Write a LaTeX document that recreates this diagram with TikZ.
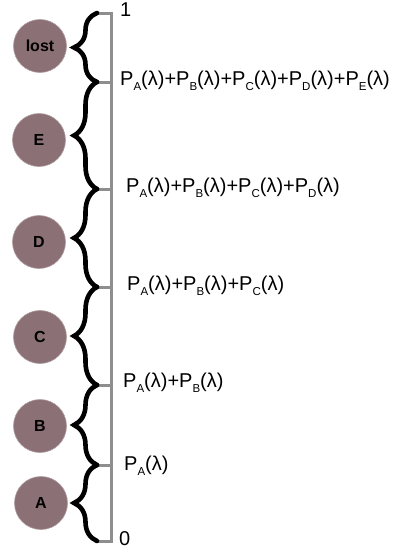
\documentclass[tikz,border=0pt]{standalone}
\usepackage{fontspec}
\setmainfont{Liberation Sans}
\usetikzlibrary{decorations.pathreplacing}
\definecolor{ball}{HTML}{8B7176}
\definecolor{scale}{HTML}{8E8E8E}
\newcommand\Pl[1]{P\raisebox{-0.5ex}{\fontsize{11.5}{12}\selectfont #1}(λ)}
\tikzset{
  ball/.style={circle,fill=ball,draw=ball!70!white,line width=0.6pt,minimum size=53pt,inner sep=0pt,font=\fontsize{16}{18}\selectfont\bfseries},
  axis/.style={draw=scale,line width=3pt},
  brc/.style={decorate,decoration={brace,amplitude=23pt},line width=4.6pt,line cap=round},
  lbl/.style={anchor=west,inner sep=0pt,font=\fontsize{20}{22}\selectfont},
}
\begin{document}
\begin{tikzpicture}[x=1pt,y=-1pt]
\useasboundingbox (0,0) rectangle (392,549);
\coordinate (t0) at (111,541);
\coordinate (t1) at (111,465);
\coordinate (t2) at (111,385);
\coordinate (t3) at (111,287);
\coordinate (t4) at (111,189);
\coordinate (t5) at (111,82);
\coordinate (t6) at (111,13);
\coordinate (b0) at (97,541);
\coordinate (b1) at (97,465);
\coordinate (b2) at (97,385);
\coordinate (b3) at (97,287);
\coordinate (b4) at (97,189);
\coordinate (b5) at (97,82);
\coordinate (b6) at (97,13);
% axis
\draw[axis] (b6) -- (t6) -- (t0) -- (b0);
\foreach \i in {1,...,5} \draw[axis] (b\i) -- (t\i);
% braces
\draw[brc] (b0) -- (b1);
\draw[brc] (b1) -- (b2);
\draw[brc] (b2) -- (b3);
\draw[brc] (b3) -- (b4);
\draw[brc] (b4) -- (b5);
\draw[brc] (b5) -- (b6);
% balls
\node[ball] (lost) at (40,46) {lost};
\node[ball] (E) at (39,140) {E};
\node[ball] (D) at (39,242) {D};
\node[ball] (C) at (40,337) {C};
\node[ball] (B) at (40,426) {B};
\node[ball] (A) at (41,503) {A};
% labels
\node[lbl] (l1) at (120,10) {1};
\node[lbl] (l0) at (119,539) {0};
\node[lbl] (lE) at (120,81) {\Pl{A}+\Pl{B}+\Pl{C}+\Pl{D}+\Pl{E}};
\node[lbl] (lD) at (126,188) {\Pl{A}+\Pl{B}+\Pl{C}+\Pl{D}};
\node[lbl] (lC) at (127,286) {\Pl{A}+\Pl{B}+\Pl{C}};
\node[lbl] (lB) at (123,383) {\Pl{A}+\Pl{B}};
\node[lbl] (lA) at (124,466) {\Pl{A}};
\end{tikzpicture}
\end{document}
